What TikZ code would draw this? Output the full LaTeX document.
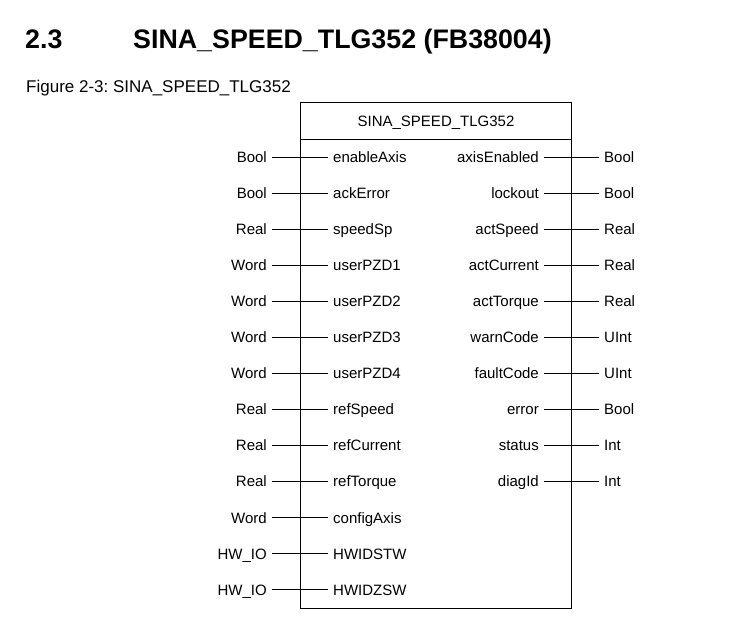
\documentclass[tikz,border=0pt]{standalone}
\usepackage{fontspec}
\setmainfont{Liberation Sans}
\usetikzlibrary{positioning}
\frenchspacing
\tikzset{
  pinname/.style={font=\fontsize{15}{18}\selectfont, inner xsep=5pt,
                  inner ysep=0pt, text height=10.5pt, text depth=0pt},
  pintype/.style={pinname},
  pinline/.style={line width=1pt},
  headtext/.style={font=\fontsize{26.8}{30}\selectfont\bfseries,
                   inner sep=0pt, anchor=base west},
}
\begin{document}
\begin{tikzpicture}[x=1pt,y=-1pt]
  \useasboundingbox (0,0) rectangle (753,641);
  % ---- heading and caption ----
  \node[headtext] (secnum) at (25,48) {2.3};
  \node[headtext] (sectitle) at (133,48) {SINA\_SPEED\_TLG352 (FB38004)};
  \node[font=\fontsize{17}{20}\selectfont, inner sep=0pt, anchor=base west]
    (caption) at (26,92) {Figure 2-3: SINA\_SPEED\_TLG352};

  % ---- function block ----
  \node[draw, line width=1.2pt, minimum width=271pt, minimum height=506pt,
        anchor=north west, inner sep=0pt] (fb) at (300,102) {};
  \draw[pinline] ([yshift=-37pt]fb.north west) -- ([yshift=-37pt]fb.north east);
  \node[pinname] (fbtitle) at (436,121) {SINA\_SPEED\_TLG352};

  % ---- inputs ----
  \foreach \pin/\type [count=\i from 0] in {enableAxis/Bool, ackError/Bool,
      speedSp/Real, userPZD1/Word, userPZD2/Word, userPZD3/Word, userPZD4/Word,
      refSpeed/Real, refCurrent/Real, refTorque/Real, configAxis/Word,
      HWIDSTW/HW\_IO, HWIDZSW/HW\_IO}{
    \node[pinname, anchor=west] (in\i) at (328,{157+36.08*\i}) {\pin};
    \node[pintype, anchor=east] (intype\i) at (272,{157+36.08*\i}) {\type};
    \draw[pinline] (intype\i) -- (in\i);
  }

  % ---- outputs ----
  \foreach \pin/\type [count=\i from 0] in {axisEnabled/Bool, lockout/Bool,
      actSpeed/Real, actCurrent/Real, actTorque/Real, warnCode/UInt,
      faultCode/UInt, error/Bool, status/Int, diagId/Int}{
    \node[pinname, anchor=east] (out\i) at (544,{157+36.08*\i}) {\pin};
    \node[pintype, anchor=west] (outtype\i) at (599,{157+36.08*\i}) {\type};
    \draw[pinline] (out\i) -- (outtype\i);
  }
\end{tikzpicture}
\end{document}
